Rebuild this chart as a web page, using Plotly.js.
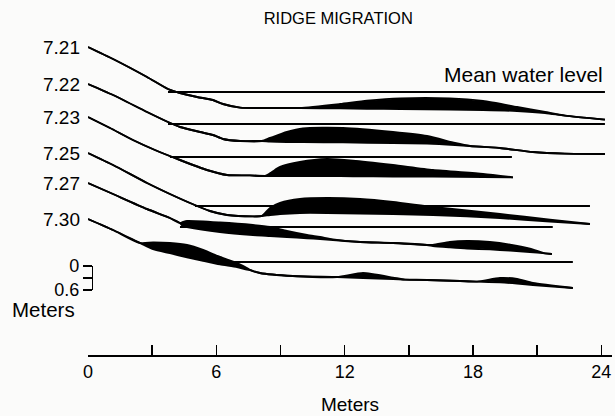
<!DOCTYPE html>
<html>
<head>
<meta charset="utf-8">
<script src="https://cdn.plot.ly/plotly-3.0.1.min.js"></script>
<style>html,body{margin:0;padding:0;background:#fbfbfa;}#chart{width:615px;height:416px;}</style>
</head>
<body>
<div id="chart"></div>
<script>
// Survey dates (profile labels)
const dates = ['7.21', '7.22', '7.23', '7.25', '7.27', '7.30'];
// Vertical stacking offset of each profile's mean water level (m on the plot)
const stackOffset = [6.575, 5.775, 4.95, 3.725, 3.2, 2.325];
// Extent of the mean-water-level line for each profile (m along the profile)
const waterStart = [3.74, 3.74, 3.83, 5.0, 4.3, 6.4];
const waterEnd = [24.17, 24.17, 19.82, 23.47, 21.73, 22.67];

// Profiles: distance (m), ridge-top elevation and profile base elevation (m, relative to mean water level)
const x721 = [0, 1.17, 2.76, 3.74, 4.30, 5.10, 5.84, 6.31, 7.11, 8.98, 9.91, 11.78, 13.04, 14.59, 16.92, 18.47, 20.06, 21.37, 22.30, 24.17];
const top721 = [1.125, 0.825, 0.375, 0.075, -0.025, -0.125, -0.2, -0.3, -0.39, -0.4, -0.4, -0.3, -0.22, -0.16, -0.16, -0.225, -0.375, -0.5, -0.59, -0.69];
const base721 = [1.125, 0.825, 0.375, 0.075, -0.025, -0.125, -0.2, -0.3, -0.39, -0.4, -0.4, -0.41, -0.42, -0.425, -0.44, -0.45, -0.475, -0.525, -0.59, -0.69];

const x722 = [0, 1.17, 2.76, 3.74, 4.30, 5.24, 5.84, 6.31, 7.11, 8.13, 8.51, 9.30, 10.05, 11.92, 14.26, 15.85, 17.16, 17.86, 19.26, 20.80, 22.30, 24.17];
const top722 = [1.0, 0.725, 0.3, 0.05, -0.075, -0.2, -0.275, -0.375, -0.425, -0.425, -0.35, -0.2, -0.11, -0.1, -0.2, -0.3, -0.475, -0.55, -0.6, -0.7, -0.74, -0.75];
const base722 = [1.0, 0.725, 0.3, 0.05, -0.075, -0.2, -0.275, -0.375, -0.425, -0.425, -0.44, -0.45, -0.45, -0.46, -0.475, -0.49, -0.525, -0.55, -0.6, -0.7, -0.74, -0.75];

const x723 = [0, 1.03, 2.10, 3.13, 4.30, 5.56, 6.50, 7.57, 8.28, 8.60, 8.98, 9.91, 11.17, 12.39, 14.26, 16.13, 18.47, 19.87];
const top723 = [1.0, 0.725, 0.425, 0.175, -0.075, -0.325, -0.45, -0.46, -0.475, -0.375, -0.25, -0.125, -0.05, -0.09, -0.2, -0.325, -0.425, -0.51];
const base723 = [1.0, 0.725, 0.425, 0.175, -0.075, -0.325, -0.45, -0.46, -0.475, -0.475, -0.475, -0.475, -0.475, -0.48, -0.49, -0.49, -0.5, -0.51];

const x725 = [0, 1.17, 2.76, 3.83, 4.77, 5.70, 6.50, 7.71, 8.13, 8.51, 8.98, 9.91, 11.17, 12.72, 14.26, 16.13, 19.26, 21.60, 23.47];
const top725 = [1.325, 1.025, 0.575, 0.3, 0.075, -0.125, -0.225, -0.26, -0.25, -0.05, 0.075, 0.175, 0.2, 0.175, 0.1, -0.025, -0.2, -0.34, -0.45];
const base725 = [1.325, 1.025, 0.575, 0.3, 0.075, -0.125, -0.225, -0.26, -0.25, -0.225, -0.2, -0.175, -0.175, -0.19, -0.2, -0.225, -0.3, -0.39, -0.45];

const x727 = [0, 1.17, 2.76, 3.83, 4.30, 4.44, 4.63, 6.17, 7.71, 8.51, 9.30, 10.24, 10.85, 11.45, 12.72, 14.26, 15.85, 16.13, 16.92, 17.72, 18.79, 19.73, 20.66, 21.37, 21.69];
const top727 = [1.1, 0.825, 0.45, 0.225, 0.1, 0.125, 0.15, 0.1125, 0.05, 0.0, -0.1, -0.2, -0.25, -0.31, -0.375, -0.4, -0.45, -0.45, -0.375, -0.35, -0.375, -0.44, -0.54, -0.66, -0.675];
const base727 = [1.1, 0.825, 0.45, 0.225, 0.1, 0.025, 0.0, -0.125, -0.2, -0.225, -0.25, -0.28, -0.3, -0.325, -0.375, -0.4, -0.45, -0.475, -0.51, -0.54, -0.56, -0.59, -0.625, -0.66, -0.675];

const x730 = [0, 1.17, 2.43, 3.04, 3.83, 4.63, 5.38, 6.17, 6.97, 7.43, 7.57, 8.04, 9.58, 11.64, 12.86, 14.26, 14.82, 15.85, 17.39, 18.19, 19.26, 20.06, 20.80, 22.67];
const top730 = [1.075, 0.8, 0.475, 0.4875, 0.475, 0.425, 0.3, 0.125, -0.025, -0.15, -0.2, -0.275, -0.35, -0.375, -0.275, -0.39, -0.44, -0.45, -0.475, -0.49, -0.4, -0.425, -0.525, -0.65];
const base730 = [1.075, 0.8, 0.475, 0.32, 0.22, 0.12, 0.03, -0.06, -0.125, -0.19, -0.2, -0.275, -0.35, -0.375, -0.4, -0.425, -0.44, -0.45, -0.475, -0.49, -0.51, -0.54, -0.575, -0.65];

// x-axis ticks (m)
const xTickVals = [0, 3, 6, 9, 12, 15, 18, 21, 24];
const xTickText = ['0', '', '6', '', '12', '', '18', '', '24'];
// vertical scale bar ticks (m)
const scaleVals = [0, 0.3, 0.6];
const scaleText = ['0', '', '0.6'];

const profX = [x721, x722, x723, x725, x727, x730];
const profTop = [top721, top722, top723, top725, top727, top730];
const profBase = [base721, base722, base723, base725, base727, base730];

const FONT = 'Liberation Sans, Arial, Helvetica, sans-serif';
const traces = [];
const annotations = [];

dates.forEach((d, i) => {
  const off = stackOffset[i];
  // mean water level line
  traces.push({
    x: [waterStart[i], waterEnd[i]], y: [off, off],
    mode: 'lines', line: {color: '#000', width: 2},
    showlegend: false, hoverinfo: 'skip'
  });
  // profile base
  traces.push({
    x: profX[i], y: profBase[i].map(v => v + off),
    mode: 'lines', line: {color: '#000', width: 1.9, shape: 'spline', smoothing: 0.6},
    showlegend: false, hoverinfo: 'skip'
  });
  // ridge top, filled down to base
  traces.push({
    x: profX[i], y: profTop[i].map(v => v + off),
    mode: 'lines', line: {color: '#000', width: 1.9, shape: 'spline', smoothing: 0.6},
    fill: 'tonexty', fillcolor: '#000',
    showlegend: false, hoverinfo: 'skip'
  });
  annotations.push({
    x: profX[i][0], y: profTop[i][0] + off, xref: 'x', yref: 'y',
    text: d, showarrow: false, xanchor: 'right', yanchor: 'middle', xshift: -6,
    font: {family: FONT, size: 19, color: '#000'}
  });
});

// dummy trace to realise the scale-bar axis
traces.push({x: [null], y: [null], xaxis: 'x', yaxis: 'y2', mode: 'lines', showlegend: false, hoverinfo: 'skip'});

annotations.push({
  x: waterEnd[0], y: stackOffset[0], xref: 'x', yref: 'y', yshift: 18,
  text: 'Mean water level', showarrow: false, xanchor: 'right', yanchor: 'middle',
  font: {family: FONT, size: 21, color: '#000'}
});
annotations.push({
  x: -0.084, y: 0.14, xref: 'paper', yref: 'paper',
  text: 'Meters', showarrow: false, xanchor: 'center', yanchor: 'middle',
  font: {family: FONT, size: 20.5, color: '#000'}
});

const layout = {
  width: 615, height: 416,
  margin: {l: 88, r: 3, t: 30, b: 61},
  paper_bgcolor: '#fbfbfa', plot_bgcolor: 'rgba(0,0,0,0)',
  title: {
    text: 'RIDGE MIGRATION', x: 0.55, xanchor: 'center', y: 0.957, yanchor: 'middle',
    font: {family: FONT, size: 16.5, color: '#000'}
  },
  xaxis: {
    range: [0, 24.5], showgrid: false, zeroline: false,
    showline: true, linecolor: '#000', linewidth: 1.5,
    ticks: 'inside', ticklen: 10, tickwidth: 1.5, tickcolor: '#000',
    tickvals: xTickVals, ticktext: xTickText,
    tickfont: {family: FONT, size: 18, color: '#000'},
    title: {text: 'Meters', standoff: 16, font: {family: FONT, size: 19, color: '#000'}},
    fixedrange: true
  },
  yaxis: {range: [0, 8.125], visible: false, fixedrange: true},
  yaxis2: {
    anchor: 'free', position: 0.0076, side: 'left',
    domain: [0.2, 0.274], range: [0.6, 0],
    showgrid: false, zeroline: false,
    showline: true, linecolor: '#000', linewidth: 1.5,
    ticks: 'outside', ticklen: 9, tickwidth: 1.5, tickcolor: '#000',
    tickvals: scaleVals, ticktext: scaleText,
    tickfont: {family: FONT, size: 18, color: '#000'},
    fixedrange: true
  },
  annotations: annotations,
  showlegend: false
};

Plotly.newPlot('chart', traces, layout, {displayModeBar: false, staticPlot: true});
</script>
</body>
</html>
